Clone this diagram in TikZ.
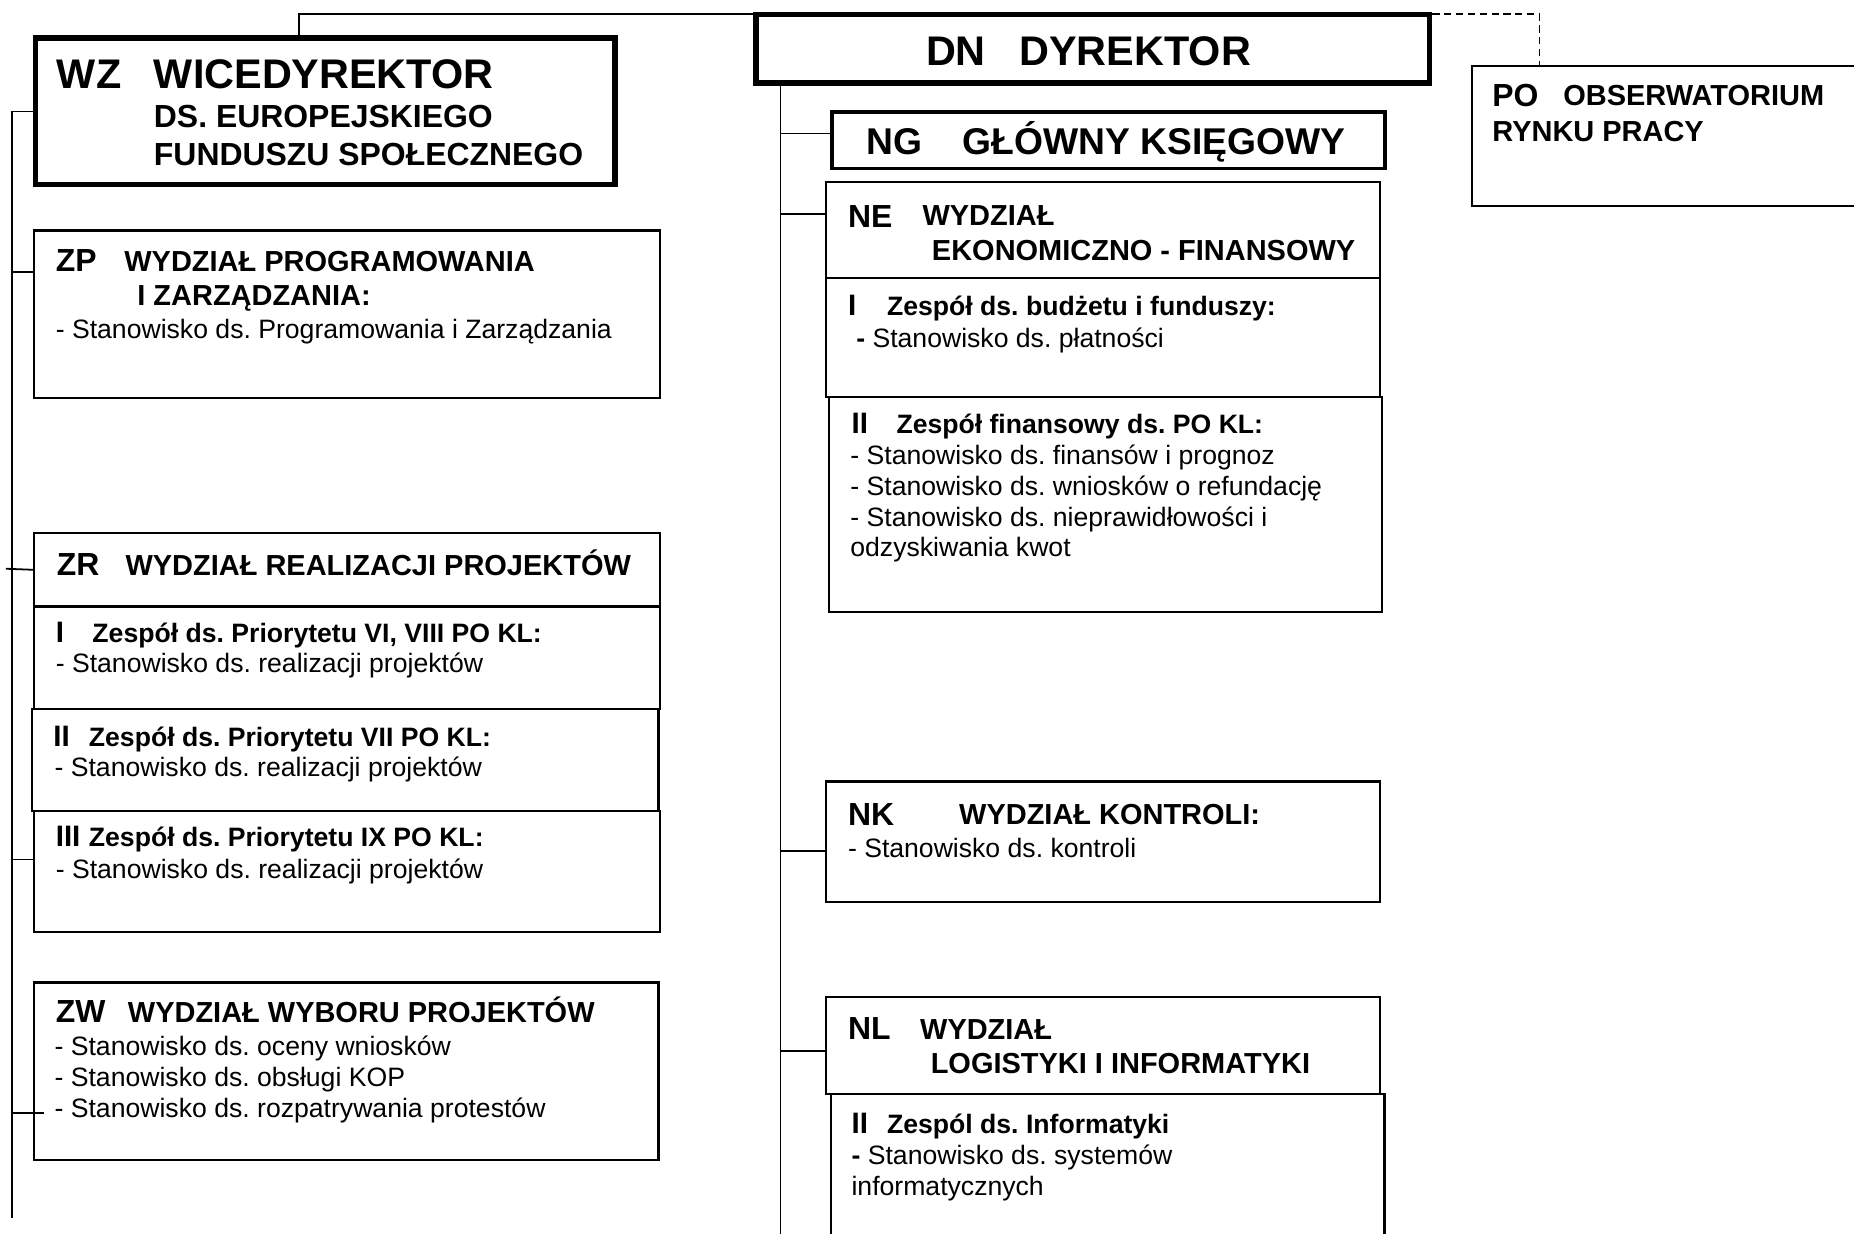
\documentclass[tikz,border=0pt]{standalone}
\usepackage{fontspec}
\setmainfont{Liberation Sans}
\usetikzlibrary{positioning}
\frenchspacing

\newcommand{\fsz}[1]{\fontsize{#1}{#1}\selectfont}

\tikzset{
  unitbox/.style={draw, line width=1.8pt, anchor=north west, inner sep=0pt},
  bossbox/.style={unitbox, line width=4.5pt},
  txt/.style={anchor=base west, inner sep=0pt},
  bigtxt/.style={txt, font=\fsz{35}\bfseries},
  codetxt/.style={txt, font=\fsz{27}\bfseries},
  headtxt/.style={txt, font=\fsz{24.5}\bfseries},
  numtxt/.style={txt, font=\fsz{25}\bfseries},
  teamtxt/.style={txt, font=\fsz{22.5}\bfseries},
  itemtxt/.style={txt, font=\fsz{22.5}},
  link/.style={line width=1.5pt},
}

\begin{document}
\begin{tikzpicture}[x=1pt, y=-1pt]
    \useasboundingbox (0,0) rectangle (1568,1043);
    \clip (0,0) rectangle (1568,1043);

    % dyrekcja
    \node[bossbox, minimum width=570pt, minimum height=58pt] (dn) at (637,10) {};
    \node[bigtxt] (dncode) at (783,55) {DN};
    \node[bigtxt] (dnname) at (862,55) {DYREKTOR};

    \node[bossbox, minimum width=490pt, minimum height=124pt] (wz) at (28,30) {};
    \node[bigtxt] (wzcode) at (48,75) {WZ};
    \node[bigtxt] (wzname) at (130,75) {WICEDYREKTOR};
    \node[txt, font=\fsz{27}\bfseries] (wzname2) at (130,108) {DS. EUROPEJSKIEGO};
    \node[txt, font=\fsz{27}\bfseries] (wzname3) at (130,140) {FUNDUSZU SPOŁECZNEGO};

    \node[unitbox, minimum width=336pt, minimum height=118pt] (po) at (1244,55) {};
    \node[codetxt] (pocode) at (1262,90) {PO};
    \node[headtxt] (poname) at (1322,89) {OBSERWATORIUM};
    \node[headtxt] (poname2) at (1262,120) {RYNKU PRACY};

    % pion wicedyrektora
    \node[unitbox, minimum width=529pt, minimum height=142pt] (zp) at (28,194) {};
    \node[codetxt] (zpcode) at (47,230) {ZP};
    \node[headtxt] (zpname) at (105,230) {WYDZIAŁ PROGRAMOWANIA};
    \node[headtxt] (zpname2) at (116,258) {I ZARZĄDZANIA:};
    \node[itemtxt] (zp-0) at (47,286) {- Stanowisko ds. Programowania i Zarządzania};

    \node[unitbox, minimum width=529pt, minimum height=62pt] (zr) at (28,450) {};
    \node[codetxt] (zrcode) at (48,487) {ZR};
    \node[headtxt] (zrname) at (106,487) {WYDZIAŁ REALIZACJI PROJEKTÓW};

    \node[unitbox, minimum width=529pt, minimum height=87pt] (zr1) at (28,512) {};
    \node[numtxt] (zr1num) at (47,543) {I};
    \node[teamtxt] (zr1name) at (78,543) {Zespół ds. Priorytetu VI, VIII PO KL:};
    \node[itemtxt] (zr1-0) at (47,569) {- Stanowisko ds. realizacji projektów};

    \node[unitbox, minimum width=530pt, minimum height=86pt] (zr2) at (26,599) {};
    \node[numtxt] (zr2num) at (45,631) {II};
    \node[teamtxt] (zr2name) at (75,631) {Zespół ds. Priorytetu VII PO KL:};
    \node[itemtxt] (zr2-0) at (46,657) {- Stanowisko ds. realizacji projektów};

    \node[unitbox, minimum width=529pt, minimum height=102pt] (zr3) at (28,685) {};
    \node[numtxt] (zr3num) at (47,716) {III};
    \node[teamtxt] (zr3name) at (75,716) {Zespół ds. Priorytetu IX PO KL:};
    \node[itemtxt] (zr3-0) at (47,743) {- Stanowisko ds. realizacji projektów};

    \node[unitbox, minimum width=528pt, minimum height=150pt] (zw) at (28,830) {};
    \node[codetxt] (zwcode) at (47,865) {ZW};
    \node[headtxt] (zwname) at (108,865) {WYDZIAŁ WYBORU PROJEKTÓW};
    \foreach \t [count=\i from 0] in {oceny wniosków, obsługi KOP, rozpatrywania protestów}
      \node[itemtxt] (zw-\i) at (46,893+26*\i) {- Stanowisko ds. \t};

    % pion dyrektora
    \node[unitbox, line width=3pt, minimum width=468pt, minimum height=48pt] (ng) at (702,93) {};
    \node[txt, font=\fsz{31.5}\bfseries] (ngcode) at (733,131) {NG};
    \node[txt, font=\fsz{31.5}\bfseries] (ngname) at (814,131) {GŁÓWNY KSIĘGOWY};

    \node[unitbox, minimum width=468pt, minimum height=81pt] (ne) at (698,153) {};
    \node[codetxt] (necode) at (717,192) {NE};
    \node[headtxt] (nename) at (780,191) {WYDZIAŁ};
    \node[headtxt] (nename2) at (788,220) {EKONOMICZNO - FINANSOWY};

    \node[unitbox, minimum width=468pt, minimum height=101pt] (ne1) at (698,234) {};
    \node[numtxt] (ne1num) at (717,267) {I};
    \node[teamtxt] (ne1name) at (750,267) {Zespół ds. budżetu i funduszy:};
    \node[itemtxt] (ne1-0) at (724,294) {{\bfseries -} Stanowisko ds. płatności};

    \node[unitbox, minimum width=468pt, minimum height=182pt] (ne2) at (700,335) {};
    \node[numtxt] (ne2num) at (720,367) {II};
    \node[teamtxt] (ne2name) at (758,367) {Zespół finansowy ds. PO KL:};
    \foreach \t [count=\i from 0] in {- Stanowisko ds. finansów i prognoz,
        - Stanowisko ds. wniosków o refundację,
        - Stanowisko ds. nieprawidłowości i,
        odzyskiwania kwot}
      \node[itemtxt] (ne2-\i) at (719,393+26*\i) {\t};

    \node[unitbox, minimum width=468pt, minimum height=102pt] (nk) at (698,660) {};
    \node[codetxt] (nkcode) at (717,698) {NK};
    \node[headtxt] (nkname) at (811,697) {WYDZIAŁ KONTROLI:};
    \node[itemtxt] (nk-0) at (717,725) {- Stanowisko ds. kontroli};

    \node[unitbox, minimum width=468pt, minimum height=82pt] (nl) at (698,842) {};
    \node[codetxt] (nlcode) at (717,879) {NL};
    \node[headtxt] (nlname) at (778,879) {WYDZIAŁ};
    \node[headtxt] (nlname2) at (787,908) {LOGISTYKI I INFORMATYKI};

    \node[unitbox, minimum width=468pt, minimum height=140pt] (nl2) at (702,924) {};
    \node[numtxt] (nl2num) at (720,959) {II};
    \node[teamtxt] (nl2name) at (750,959) {Zespól ds. Informatyki};
    \node[itemtxt] (nl2-0) at (720,985) {{\bfseries -} Stanowisko ds. systemów};
    \node[itemtxt] (nl2-1) at (720,1011) {informatycznych};

    % polaczenia
    \coordinate (wztop) at (253,30);
    \coordinate (potop) at (1302,55);
    \coordinate (lend) at (10,1030);
    \coordinate (rend) at (660,1050);
    \coordinate (zrstub) at (5,481);
    \coordinate (zwtick) at (37,941);

    \draw[link] (wztop) |- ([yshift=-2pt]dn.north west);
    \draw[link, dash pattern=on 6pt off 4pt] ([yshift=-2pt]dn.north east) -| (potop);

    \draw[link] (wz.west) -| (lend);
    \draw[link] ([yshift=-36pt]zp.north west) -- ([yshift=-36pt]zp.north west -| lend);
    \draw[link] (zrstub) -- (zr.west);
    \draw[link] ([yshift=-42pt]zr3.north west) -- ([yshift=-42pt]zr3.north west -| lend);
    \draw[link] (zwtick) -- (zwtick -| lend);

    \draw[link] (dn.south west -| rend) -- (rend);
    \draw[link] ([yshift=-20pt]ng.north west) -- ([yshift=-20pt]ng.north west -| rend);
    \draw[link] ([yshift=-28pt]ne.north west) -- ([yshift=-28pt]ne.north west -| rend);
    \draw[link] ([yshift=-60pt]nk.north west) -- ([yshift=-60pt]nk.north west -| rend);
    \draw[link] ([yshift=-47pt]nl.north west) -- ([yshift=-47pt]nl.north west -| rend);
\end{tikzpicture}
\end{document}
